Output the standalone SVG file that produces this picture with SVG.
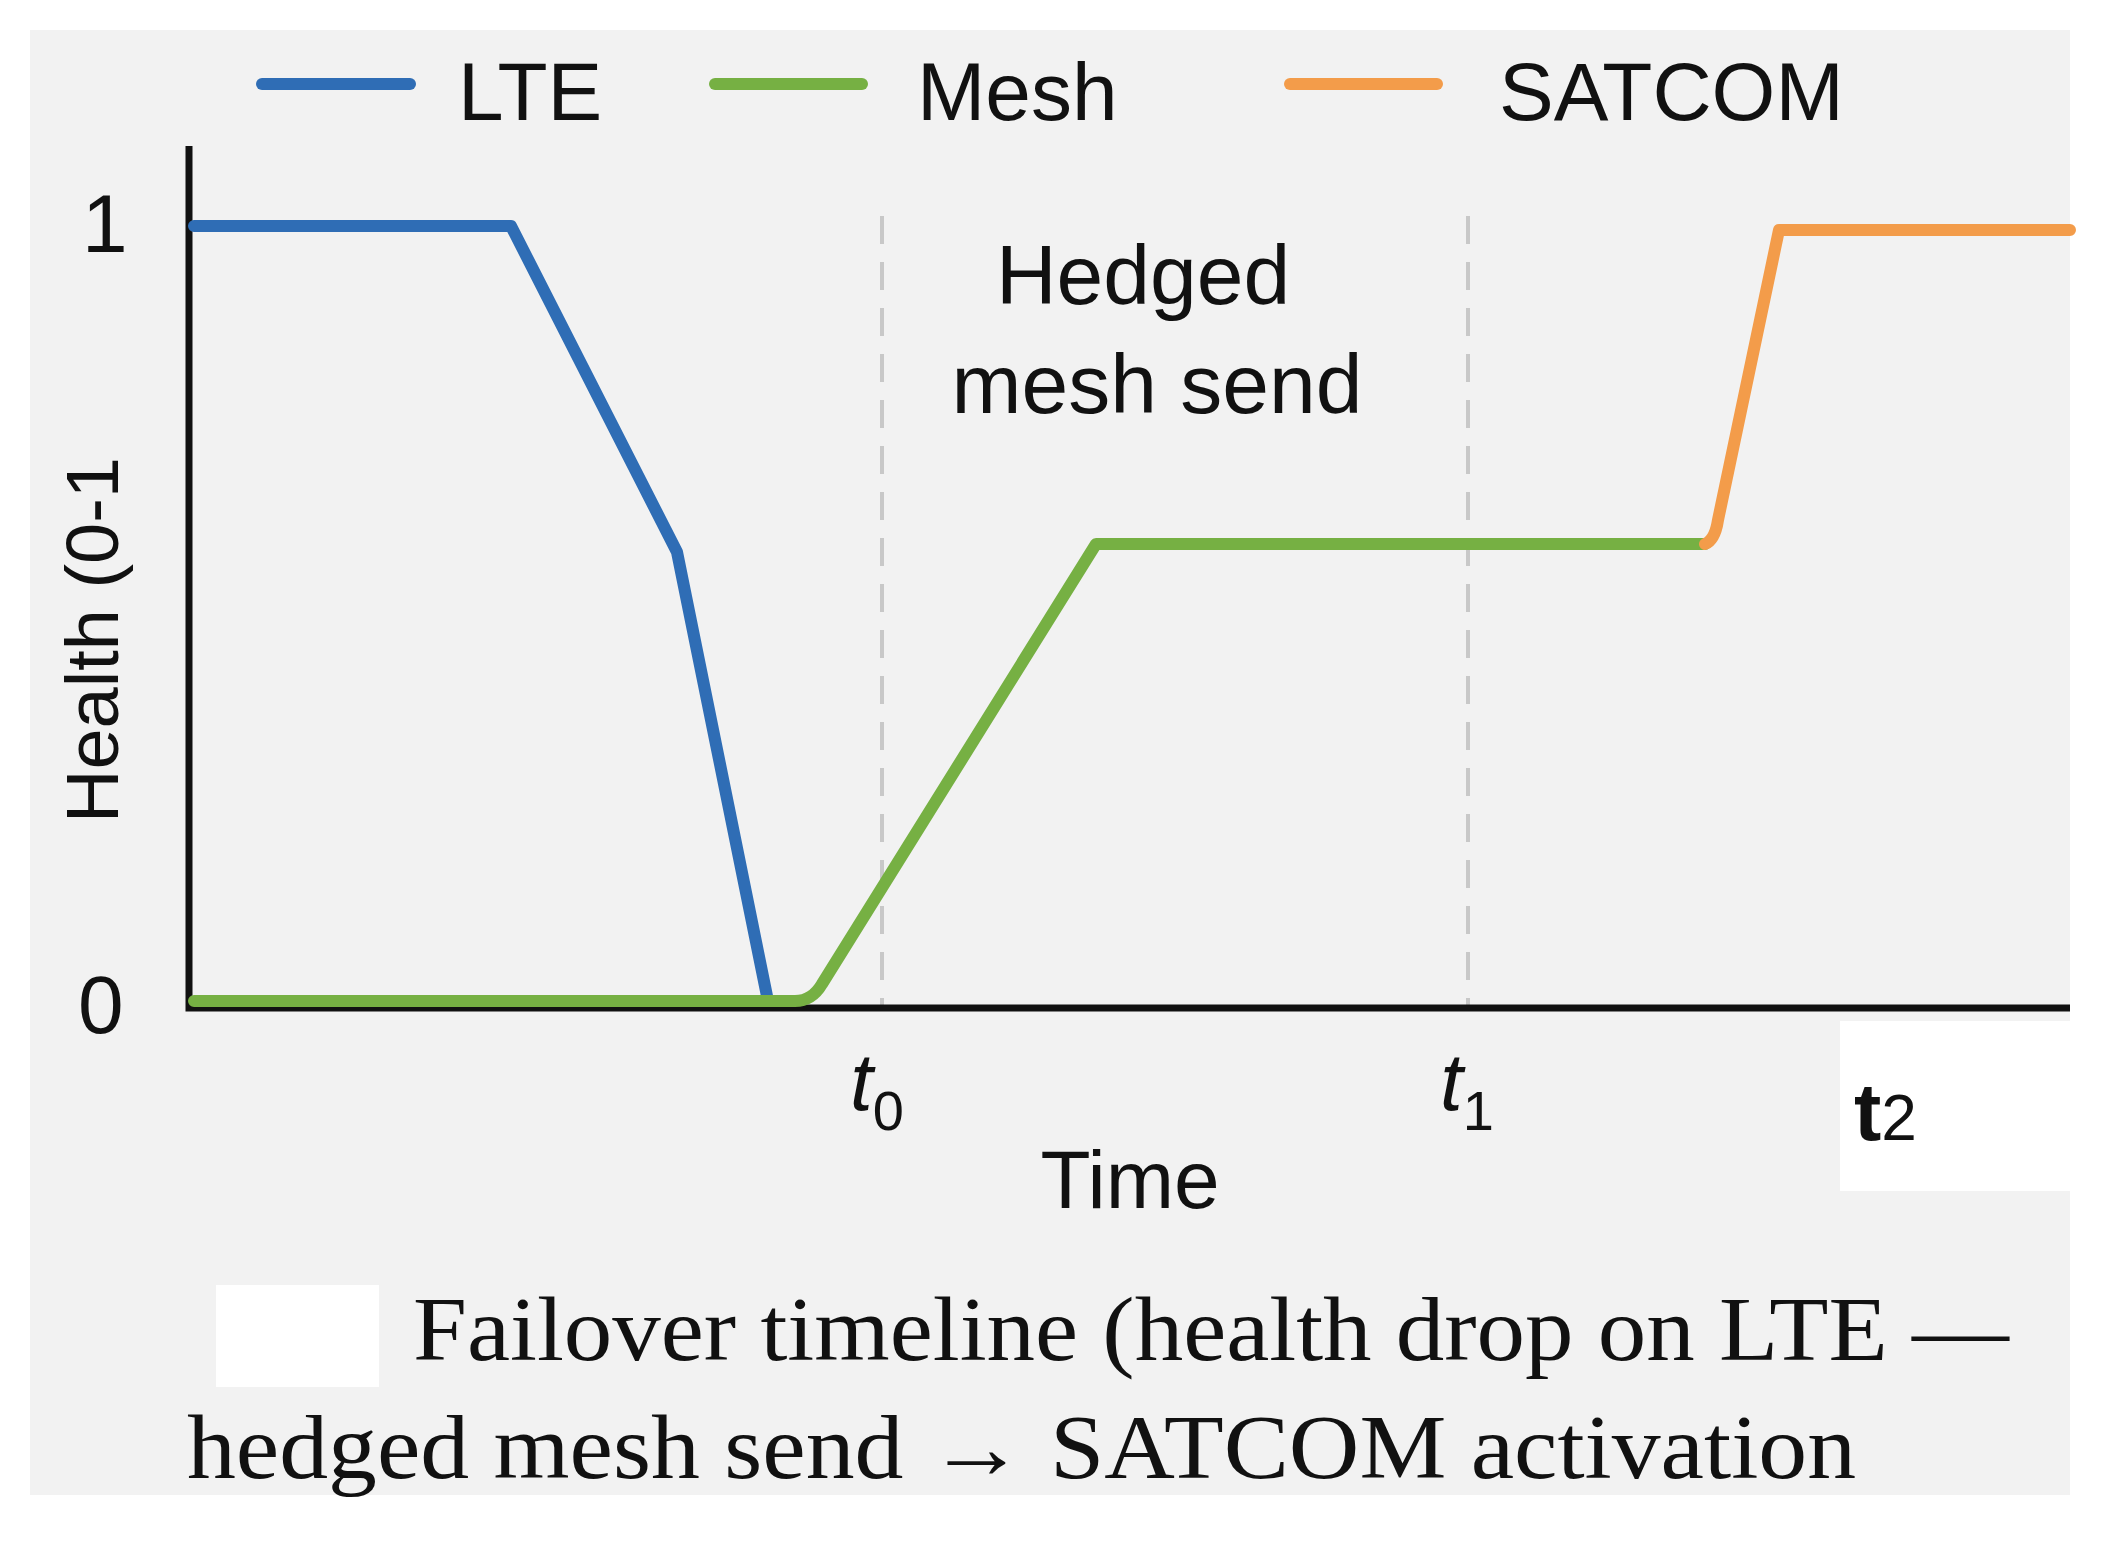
<svg xmlns="http://www.w3.org/2000/svg" width="2111" height="1551" viewBox="0 0 2111 1551">
<style>
.s{font-family:"Liberation Sans",Arial,sans-serif;fill:#111}
.c{font-family:"Liberation Serif","Times New Roman",serif;fill:#111;font-size:90px}
.ln{fill:none;stroke-width:12;stroke-linejoin:round;stroke-linecap:round}
</style>
<rect width="2111" height="1551" fill="#fff"/>
<rect x="30" y="30" width="2040" height="1465" fill="#f2f2f2"/>
<rect x="1840" y="1021" width="230" height="170" fill="#fff"/>
<rect x="216" y="1285" width="163" height="102" fill="#fff"/>
<g id="legend">
<line x1="262" y1="84" x2="410" y2="84" stroke="#2f6db5" stroke-width="12" stroke-linecap="round"/>
<text class="s" x="458" y="120" font-size="82">LTE</text>
<line x1="715" y1="84" x2="862" y2="84" stroke="#76b043" stroke-width="12" stroke-linecap="round"/>
<text class="s" x="917" y="120" font-size="82">Mesh</text>
<line x1="1290" y1="84" x2="1437" y2="84" stroke="#f39c4a" stroke-width="12" stroke-linecap="round"/>
<text class="s" x="1499" y="120" font-size="82">SATCOM</text>
</g>
<g id="axes">
<line x1="882" y1="216" x2="882" y2="1008" stroke="#c8c8c8" stroke-width="4" stroke-dasharray="28,18"/>
<line x1="1468" y1="216" x2="1468" y2="1008" stroke="#c8c8c8" stroke-width="4" stroke-dasharray="28,18"/>
<polyline points="189,146 189,1008 2070,1008" fill="none" stroke="#111" stroke-width="7"/>
<text class="s" x="82" y="252" font-size="82">1</text>
<text class="s" x="78" y="1033" font-size="82">0</text>
<text class="s" transform="translate(118,640) rotate(-90)" text-anchor="middle" font-size="74">Health (0-1</text>
<text class="s" x="1143" y="304" text-anchor="middle" font-size="84">Hedged</text>
<text class="s" x="1157" y="413" text-anchor="middle" font-size="84">mesh send</text>
<text class="s" x="850" y="1110" font-size="82" font-style="italic">t<tspan font-size="56" font-style="normal" dy="20">0</tspan></text>
<text class="s" x="1440" y="1110" font-size="82" font-style="italic">t<tspan font-size="56" font-style="normal" dy="20">1</tspan></text>
<text class="s" x="1854" y="1140" font-size="82" font-weight="bold">t<tspan font-size="64" font-weight="normal">2</tspan></text>
<text class="s" x="1130" y="1208" text-anchor="middle" font-size="82">Time</text>
</g>
<g id="series">
<polyline class="ln" stroke="#2f6db5" points="194,226 511,226 677,552 768,1001"/>
<path class="ln" stroke="#76b043" d="M194,1001 L795,1001 Q812,1001 822,984 L1096,544 L1705,544"/>
<path class="ln" stroke="#f39c4a" d="M1705,544 Q1715,540 1718,520 L1779,230 L2070,230"/>
</g>
<g id="caption">
<text class="c" x="413" y="1360" textLength="1596" lengthAdjust="spacingAndGlyphs">Failover timeline (health drop on LTE —</text>
<text class="c" x="187" y="1478" textLength="1669" lengthAdjust="spacingAndGlyphs">hedged mesh send → SATCOM activation</text>
</g>
</svg>
